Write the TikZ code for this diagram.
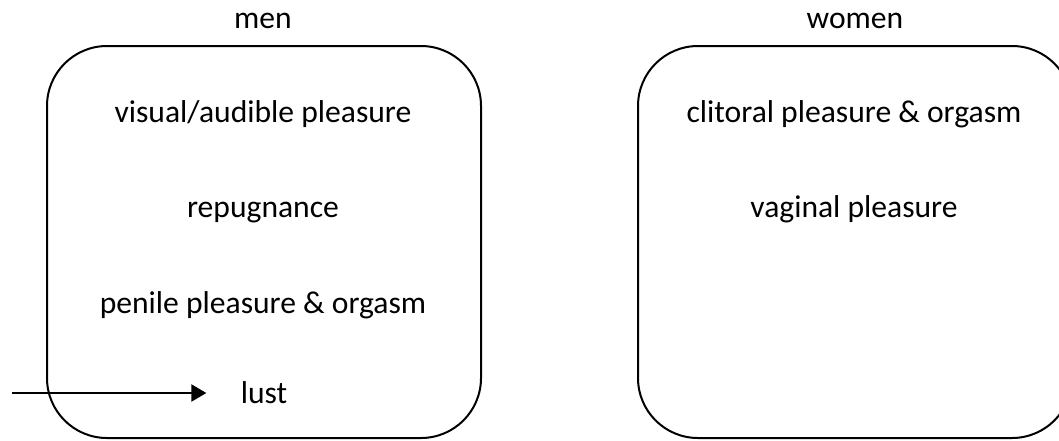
\documentclass[tikz,border=0pt]{standalone}
\usepackage{fontspec}
\setmainfont{Carlito}
\usetikzlibrary{arrows.meta}
\begin{document}
\begin{tikzpicture}[x=0.5pt,y=-0.5pt,
  lbl/.style={anchor=base, inner sep=0pt, font=\fontsize{15.8}{19}\selectfont},
  box/.style={draw, line width=1pt, rounded corners=30pt, minimum width=217pt, minimum height=196pt, inner sep=0pt},
  arr/.style={line width=1pt, -{Triangle[length=7.5pt,width=8.5pt]}}]
\useasboundingbox (0,0) rectangle (1059,440);
\node[box] (menbox) at (264,242) {};
\node[box] (womenbox) at (855,242) {};
\node[lbl] (men) at (263,28) {men};
\node[lbl] (women) at (855,28) {women};
\node[lbl] (visual) at (263,122) {visual/audible pleasure};
\node[lbl] (repug) at (263,217) {repugnance};
\node[lbl] (penile) at (263,313) {penile pleasure \& orgasm};
\node[lbl] (lust) at (264,403) {lust};
\node[lbl] (clit) at (854,122) {clitoral pleasure \& orgasm};
\node[lbl] (vag) at (854,217) {vaginal pleasure};
\coordinate (src) at (12,393);
\draw[arr, shorten >=17pt] (src) -- (src -| lust.west);
\end{tikzpicture}
\end{document}
